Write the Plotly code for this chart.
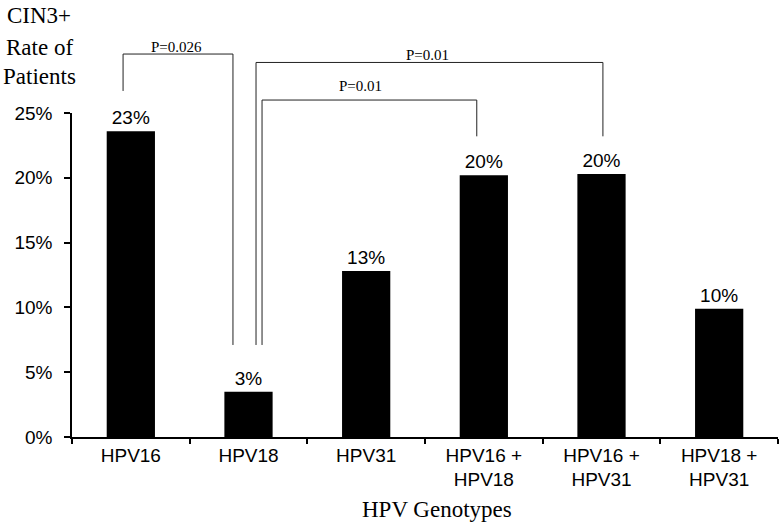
import plotly.graph_objects as go

categories = ["HPV16", "HPV18", "HPV31", "HPV16 +<br>HPV18", "HPV16 +<br>HPV31", "HPV18 +<br>HPV31"]
rates = [23.6, 3.5, 12.8, 20.2, 20.3, 9.9]
bar_labels = ["23%", "3%", "13%", "20%", "20%", "10%"]
y_ticks = [0, 5, 10, 15, 20, 25]
y_tick_text = ["0%", "5%", "10%", "15%", "20%", "25%"]
y_max = 25

# significance brackets (category index / % units):
# (x_left, x_right, y_top, y_left_bottom, y_right_bottom, label, text_x, text_y)
brackets = [
    (-0.066, 0.868, 29.55, 26.7, 7.1, "P=0.026", 0.39, 30.1),
    (1.064, 4.012, 28.9, 7.1, 23.2, "P=0.01", 2.52, 29.5),
    (1.115, 2.94, 26.0, 7.1, 23.2, "P=0.01", 1.95, 27.1),
]

n = len(categories)


def px(xc):  # category index -> paper x
    return (xc + 0.5) / n


def py(yv):  # % value -> paper y
    return yv / y_max


fig = go.Figure()
fig.add_trace(go.Bar(
    x=categories, y=rates,
    width=0.41,
    marker=dict(color="black", line=dict(width=0)),
    text=bar_labels, textposition="outside",
    textfont=dict(family="Liberation Sans, Arial", size=19, color="black"),
    cliponaxis=False,
))

shapes = []
annotations = []
lc = dict(color="#222", width=1)
for xl, xr, yt, ylb, yrb, lab, tx, ty in brackets:
    shapes.append(dict(type="path", xref="paper", yref="paper",
                       path=f"M {px(xl)} {py(ylb)} L {px(xl)} {py(yt)} L {px(xr)} {py(yt)} L {px(xr)} {py(yrb)}",
                       line=lc))
    annotations.append(dict(x=px(tx), y=py(ty), xref="paper", yref="paper", text=lab, showarrow=False,
                            font=dict(family="Liberation Serif, Times New Roman", size=15, color="black"),
                            yanchor="middle", xanchor="center"))

W, H = 781, 522
ml, mr, mt, mb = 72, 3, 113, 85
pw, ph = W - ml - mr, H - mt - mb

serif = dict(family="Liberation Serif, Times New Roman", size=23, color="black")
for txt, ypx in [("CIN3+", 15), ("Rate of", 47), ("Patients", 77)]:
    annotations.append(dict(x=(39 - ml) / pw, y=(H - mb - ypx) / ph, xref="paper", yref="paper",
                            text=txt, showarrow=False, font=serif, xanchor="center", yanchor="middle"))
annotations.append(dict(x=(437 - ml) / pw, y=(H - mb - 510) / ph, xref="paper", yref="paper",
                        text="HPV Genotypes", showarrow=False, font=serif, xanchor="center", yanchor="middle"))

fig.update_layout(
    width=W, height=H,
    margin=dict(l=ml, r=mr, t=mt, b=mb, autoexpand=False),
    paper_bgcolor="white", plot_bgcolor="white",
    showlegend=False,
    shapes=shapes, annotations=annotations,
    xaxis=dict(
        type="category", tickson="boundaries",
        showline=True, linecolor="black", linewidth=1.5,
        ticks="outside", ticklen=5, tickcolor="black", tickwidth=1.5,
        showgrid=False, zeroline=False,
        tickfont=dict(family="Liberation Sans, Arial", size=19, color="black"),
    ),
    yaxis=dict(
        range=[0, y_max], tickvals=y_ticks, ticktext=y_tick_text,
        showline=True, linecolor="black", linewidth=1.5,
        ticks="outside", ticklen=6, tickcolor="black", tickwidth=1.5,
        showgrid=False, zeroline=False, ticklabelstandoff=8,
        tickfont=dict(family="Liberation Sans, Arial", size=19, color="black"),
    ),
)

fig.write_html("out.html", config={"displayModeBar": False},
               post_script="document.body.style.margin='0px';")
